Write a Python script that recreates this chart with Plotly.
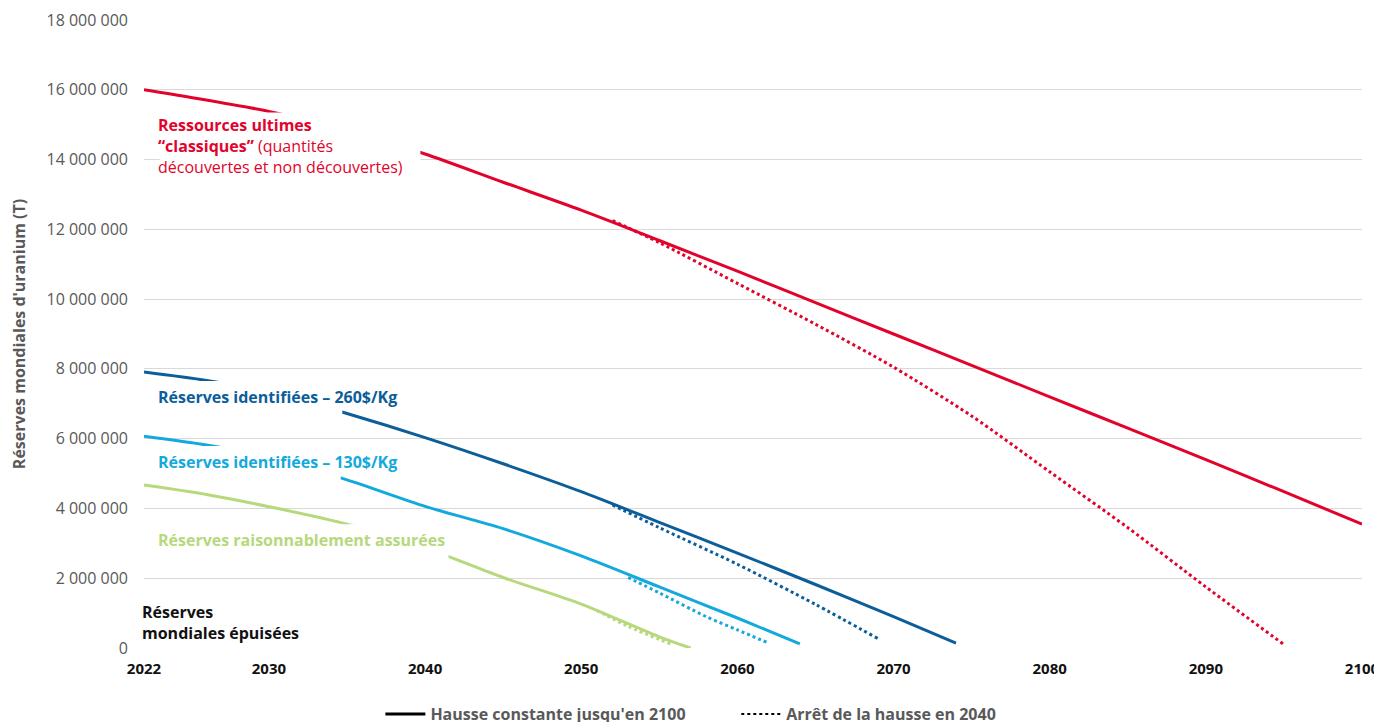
import plotly.graph_objects as go

# ---- data (tonnes) ----
red_years = [2022, 2025, 2030, 2035, 2040, 2045, 2050, 2055, 2060, 2065, 2070, 2075, 2080, 2085, 2090, 2095, 2100]
red_solid = [16.00e6, 15.78e6, 15.38e6, 14.85e6, 14.16e6, 13.35e6, 12.55e6, 11.68e6, 10.80e6, 9.90e6, 9.00e6, 8.10e6, 7.20e6, 6.30e6, 5.40e6, 4.48e6, 3.55e6]
red_dot_years = [2052, 2055, 2060, 2065, 2070, 2075, 2080, 2085, 2090, 2095]
red_dot = [12.25e6, 11.62e6, 10.45e6, 9.28e6, 8.05e6, 6.65e6, 5.05e6, 3.45e6, 1.75e6, 0.10e6]

dblue_years = [2022, 2026, 2030, 2035, 2040, 2045, 2050, 2055, 2060, 2065, 2070, 2074]
dblue_solid = [7.91e6, 7.67e6, 7.35e6, 6.72e6, 6.03e6, 5.28e6, 4.48e6, 3.60e6, 2.72e6, 1.82e6, 0.90e6, 0.14e6]
dblue_dot_years = [2052, 2055, 2060, 2065, 2069]
dblue_dot = [4.10e6, 3.45e6, 2.40e6, 1.25e6, 0.27e6]

lblue_years = [2022, 2026, 2030, 2035, 2040, 2045, 2050, 2055, 2060, 2064]
lblue_solid = [6.07e6, 5.82e6, 5.47e6, 4.82e6, 4.06e6, 3.42e6, 2.64e6, 1.75e6, 0.86e6, 0.12e6]
lblue_dot_years = [2053, 2055, 2058, 2060, 2062]
lblue_dot = [2.02e6, 1.58e6, 0.90e6, 0.52e6, 0.14e6]

green_years = [2022, 2026, 2030, 2035, 2040, 2045, 2050, 2055, 2057]
green_solid = [4.67e6, 4.40e6, 4.05e6, 3.55e6, 2.87e6, 2.02e6, 1.26e6, 0.32e6, 0.0]
green_dot_years = [2051, 2053, 2055.7]
green_dot = [1.08e6, 0.62e6, 0.12e6]

x_ticks = [2022, 2030, 2040, 2050, 2060, 2070, 2080, 2090, 2100]
y_ticks = [0, 2e6, 4e6, 6e6, 8e6, 10e6, 12e6, 14e6, 16e6, 18e6]

RED = "#E2032C"
DBLUE = "#0B5E9A"
LBLUE = "#13A9DD"
GREEN = "#B7D87C"
GRAY = "#595959"
FONT = "Open Sans"

fig = go.Figure()

def add(x, y, color, dash):
    fig.add_trace(go.Scatter(x=x, y=y, mode="lines", showlegend=False, hoverinfo="skip",
                             line=dict(color=color, width=3, dash=dash, shape="spline", smoothing=0.8)))

# dotted first (beneath solid)
add(red_dot_years, red_dot, RED, "dot")
add(dblue_dot_years, dblue_dot, DBLUE, "dot")
add(lblue_dot_years, lblue_dot, LBLUE, "dot")
add(green_dot_years, green_dot, GREEN, "dot")
add(red_years, red_solid, RED, "solid")
add(dblue_years, dblue_solid, DBLUE, "solid")
add(lblue_years, lblue_solid, LBLUE, "solid")
add(green_years, green_solid, GREEN, "solid")

# legend entries
PAD = "&nbsp;" * 11
fig.add_trace(go.Scatter(x=[None], y=[None], mode="lines", name="<b>Hausse constante jusqu'en 2100</b>" + PAD,
                         line=dict(color="black", width=3, dash="solid")))
fig.add_trace(go.Scatter(x=[None], y=[None], mode="lines", name="<b>Arrêt de la hausse en 2040</b>",
                         line=dict(color="black", width=2, dash="dot")))

# white boxes behind labels (hide lines)
boxes = [
    (2023, 2039.7, 13.3e6, 15.35e6),
    (2023, 2034.7, 6.6e6, 7.65e6),
    (2023, 2034.6, 4.75e6, 5.79e6),
    (2023, 2041.5, 2.5e6, 3.55e6),
]
for x0, x1, y0, y1 in boxes:
    fig.add_shape(type="rect", xref="x", yref="y", x0=x0, x1=x1, y0=y0, y1=y1,
                  fillcolor="white", line=dict(width=0), layer="above")

ann = dict(xref="x", yref="y", xanchor="left", yanchor="middle", align="left", showarrow=False)
fig.add_annotation(x=2022.8, y=14.39e6,
                   text="<b>Ressources ultimes</b><br><b>“classiques”</b> (quantités<br>découvertes et non découvertes)",
                   font=dict(family=FONT, size=16, color=RED), **ann)
fig.add_annotation(x=2022.8, y=7.19e6, text="<b>Réserves identifiées – 260$/Kg</b>",
                   font=dict(family=FONT, size=16, color=DBLUE), **ann)
fig.add_annotation(x=2022.8, y=5.33e6, text="<b>Réserves identifiées – 130$/Kg</b>",
                   font=dict(family=FONT, size=16, color=LBLUE), **ann)
fig.add_annotation(x=2022.8, y=3.10e6, text="<b>Réserves raisonnablement assurées</b>",
                   font=dict(family=FONT, size=16, color=GREEN), **ann)
fig.add_annotation(x=2022, xshift=-4, y=0.72e6, text="<b>Réserves<br>mondiales épuisées</b>",
                   font=dict(family=FONT, size=16, color="#111111"), **ann)

# page body adds an 8px offset; figure sized so the plot lands where the reference has it
fig.update_layout(
    width=1374, height=714,
    margin=dict(l=136, r=20, t=12, b=74, autoexpand=False),
    paper_bgcolor="white", plot_bgcolor="white",
    separators=", ",
    font=dict(family=FONT, color=GRAY),
    showlegend=True,
    legend=dict(orientation="h", x=0.449, xanchor="center", y=-0.078, yanchor="top",
                font=dict(family=FONT, size=16, color=GRAY), itemwidth=40,
                tracegroupgap=0),
    xaxis=dict(range=[2022, 2100], tickvals=x_ticks, ticktext=[f"<b>{v}</b>" for v in x_ticks],
               showgrid=False, zeroline=False, showline=False, ticks="", automargin=False,
               ticklabelstandoff=10,
               tickfont=dict(family=FONT, size=15, color="#111111")),
    yaxis=dict(range=[0, 18e6], tickvals=y_ticks, tickformat=",", showgrid=True,
               gridcolor="#D9D9D9", gridwidth=1, zeroline=False, showline=False, ticks="",
               automargin=False, ticklabelstandoff=15,
               tickfont=dict(family=FONT, size=16, color=GRAY),
               title=dict(text="<b>Réserves mondiales d'uranium (T)</b>", standoff=16,
                          font=dict(family=FONT, size=16, color=GRAY))),
)

fig.write_html("out.html",
               post_script="document.documentElement.style.overflow='hidden';"
                           "document.body.style.overflow='hidden';")
